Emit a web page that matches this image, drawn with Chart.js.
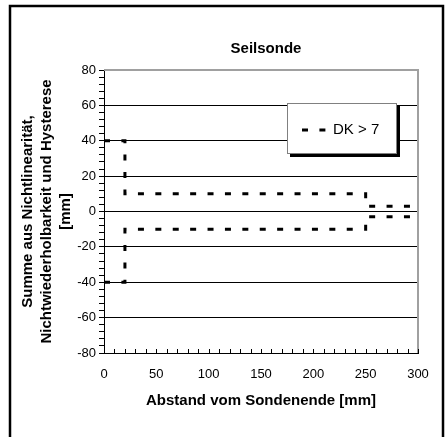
<!DOCTYPE html>
<html>
<head>
<meta charset="utf-8">
<script src="https://cdn.jsdelivr.net/npm/chart.js@4"></script>
<style>
  html, body { margin: 0; padding: 0; background: #fff; }
  #wrap { width: 448px; height: 437px; }
</style>
</head>
<body>
<div id="wrap"><canvas id="seilChart" width="448" height="437"></canvas></div>
<script>
// Abstand vom Sondenende [mm]
const abstand = [0, 20, 20, 250, 250, 300];
// obere und untere Grenze [mm]
const grenzeOben = [40, 40, 10, 10, 3, 3];
const grenzeUnten = [-40, -40, -10, -10, -3, -3];

const serieLabel = 'DK > 7';
const titel = 'Seilsonde';
const yTitel = ['Summe aus Nichtlinearität,', 'Nichtwiederholbarkeit und Hysterese', '[mm]'];
const xTitel = 'Abstand vom Sondenende [mm]';

const FONT = "'Liberation Sans', Arial, sans-serif";
const DASH = [6, 11.4];

const toPoints = (ys) => abstand.map((x, i) => ({ x: x, y: ys[i] }));

// Rahmen, Titel, y-Achsentitel, Plotrahmen und innere x-Ticks
const decor = {
    id: 'decor',
    beforeDraw(chart) {
        const ctx = chart.ctx;
        const a = chart.chartArea;
        ctx.save();
        ctx.fillStyle = '#fff';
        ctx.fillRect(0, 0, chart.width, chart.height);
        ctx.strokeStyle = '#000';
        ctx.lineWidth = 2.5;
        ctx.strokeRect(10, 6, 433, 460);
        ctx.fillStyle = '#000';
        ctx.font = 'bold 15px ' + FONT;
        ctx.textAlign = 'center';
        ctx.textBaseline = 'middle';
        ctx.fillText(titel, 266, 49);
        ctx.restore();

        // y-Achsentitel: jede Zeile einzeln gedreht
        const cy = (a.top + a.bottom) / 2;
        yTitel.forEach((line, i) => {
            ctx.save();
            ctx.fillStyle = '#000';
            ctx.font = 'bold 15px ' + FONT;
            ctx.textAlign = 'center';
            ctx.textBaseline = 'middle';
            ctx.translate(28 + i * 19, cy);
            ctx.rotate(-Math.PI / 2);
            ctx.fillText(line, 0, 0);
            ctx.restore();
        });
    },
    beforeDatasetsDraw(chart) {
        const { ctx, chartArea: a, scales: { x } } = chart;
        ctx.save();
        ctx.strokeStyle = '#a0a0a0';
        ctx.lineWidth = 2;
        ctx.beginPath();
        ctx.moveTo(a.left, a.top);
        ctx.lineTo(a.right, a.top);
        ctx.lineTo(a.right, a.bottom);
        ctx.stroke();
        ctx.strokeStyle = '#000';
        ctx.lineWidth = 1;
        ctx.beginPath();
        x.ticks.forEach(t => {
            const px = Math.round(x.getPixelForValue(t.value)) + 0.5;
            ctx.moveTo(px, a.bottom);
            ctx.lineTo(px, a.bottom - 4);
        });
        ctx.stroke();
        ctx.restore();
    },
    afterDraw(chart) {
        const ctx = chart.ctx;
        const bx = 287, by = 103, bw = 110, bh = 51;
        ctx.save();
        ctx.fillStyle = '#000';
        ctx.fillRect(bx + 3, by + 3, bw, bh);
        ctx.fillStyle = '#fff';
        ctx.fillRect(bx, by, bw, bh);
        ctx.strokeStyle = '#808080';
        ctx.lineWidth = 1;
        ctx.strokeRect(bx + 0.5, by + 0.5, bw - 1, bh - 1);
        ctx.strokeStyle = '#000';
        ctx.lineWidth = 3;
        ctx.setLineDash(DASH);
        ctx.beginPath();
        ctx.moveTo(302, 130);
        ctx.lineTo(326, 130);
        ctx.stroke();
        ctx.setLineDash([]);
        ctx.fillStyle = '#000';
        ctx.font = '15px ' + FONT;
        ctx.textAlign = 'left';
        ctx.textBaseline = 'middle';
        ctx.fillText(chart.data.datasets[0].label, 333, 130);
        ctx.restore();
    }
};

const linie = (label, ys) => ({
    label: label,
    data: toPoints(ys),
    showLine: true,
    borderColor: '#000',
    borderWidth: 3,
    borderDash: DASH,
    pointRadius: 0,
    fill: false,
    tension: 0
});

new Chart(document.getElementById('seilChart'), {
    type: 'scatter',
    data: {
        datasets: [linie(serieLabel, grenzeOben), linie(serieLabel, grenzeUnten)]
    },
    options: {
        responsive: false,
        animation: false,
        layout: { padding: { left: 0, top: 70, right: 30, bottom: 0 } },
        plugins: {
            legend: { display: false },
            title: { display: false },
            tooltip: { enabled: false }
        },
        scales: {
            x: {
                type: 'linear',
                min: 0,
                max: 300,
                afterFit: (s) => { s.height = 84; },
                grid: { drawOnChartArea: false, drawTicks: false },
                border: { color: '#000', width: 1 },
                ticks: {
                    stepSize: 10,
                    autoSkip: false,
                    maxRotation: 0,
                    padding: 14,
                    color: '#000',
                    font: { family: FONT, size: 13 },
                    callback: (v) => (v % 50 === 0 ? v : '')
                },
                title: {
                    display: true,
                    text: xTitel,
                    color: '#000',
                    font: { family: FONT, size: 15, weight: 'bold', lineHeight: 1.25 },
                    padding: { top: 0, bottom: 27 }
                }
            },
            y: {
                min: -80,
                max: 80,
                afterFit: (s) => { s.width = 104; },
                grid: {
                    color: (c) => (c.tick && c.tick.value % 20 === 0 && Math.abs(c.tick.value) < 80 ? '#000' : 'rgba(0,0,0,0)'),
                    tickColor: '#000',
                    tickLength: 5,
                    lineWidth: 1
                },
                border: { color: '#000', width: 1 },
                ticks: {
                    stepSize: 4,
                    autoSkip: false,
                    padding: 3,
                    color: '#000',
                    font: { family: FONT, size: 13 },
                    callback: (v) => (v % 20 === 0 ? v : '')
                }
            }
        }
    },
    plugins: [decor]
});
</script>
</body>
</html>
